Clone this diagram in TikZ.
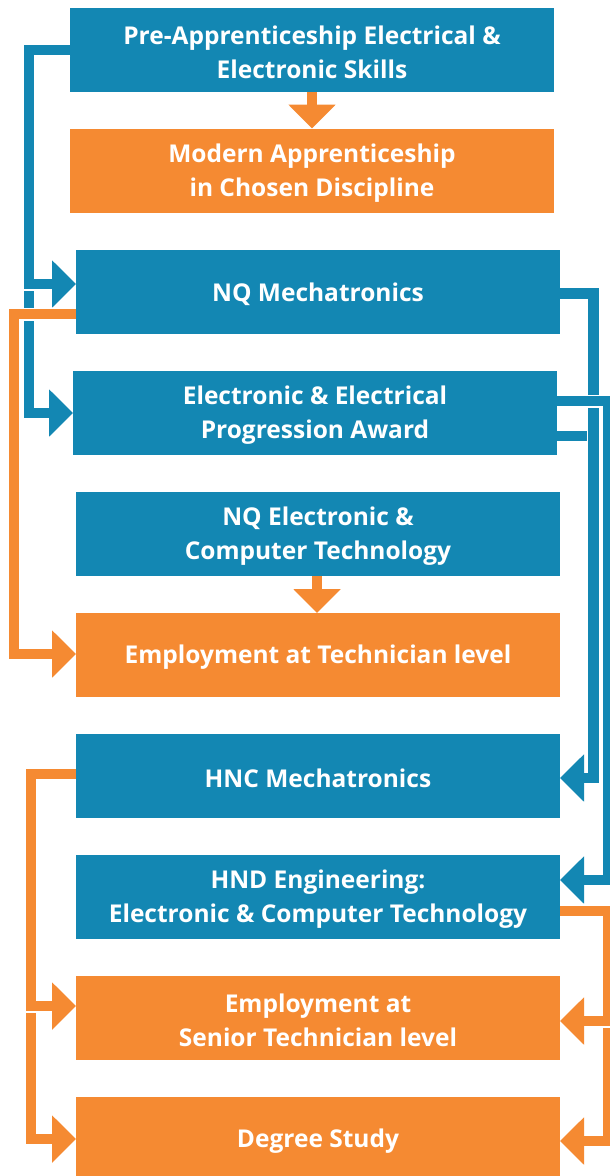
\documentclass[tikz,border=0pt]{standalone}
\usepackage{fontspec}
\setmainfont{Open Sans}
\usetikzlibrary{arrows.meta}
\definecolor{cblue}{RGB}{19,135,179}
\definecolor{corange}{RGB}{245,138,50}
\newcommand\boxtext[1]{\parbox[c][84pt][c]{484pt}{\centering\vspace*{5pt}#1\par}}
\begin{document}
\begin{tikzpicture}[x=1pt,y=-1pt,
  box/.style={minimum width=484pt, minimum height=84pt, inner sep=0pt, outer sep=0pt,
    text=white, font=\bfseries\fontsize{24.5}{34}\selectfont},
  bbox/.style={box, fill=cblue},
  obox/.style={box, fill=corange},
  conn/.style={line width=10.5pt, -{Triangle[length=24pt,width=46pt]},
    preaction={draw=white, line width=13pt, -}},
  bconn/.style={conn, draw=cblue},
  oconn/.style={conn, draw=corange},
  bjoin/.style={line width=10.5pt, draw=cblue, preaction={draw=white, line width=13pt}}
]
\useasboundingbox (0,0) rectangle (610,1176);

\node[bbox] (b1) at (312,50) {\boxtext{Pre-Apprenticeship Electrical \&\\Electronic Skills}};
\node[obox] (b2) at (312,170.5) {\boxtext{Modern Apprenticeship\\in Chosen Discipline}};
\node[bbox] (b3) at (318,291.5) {\boxtext{NQ Mechatronics}};
\node[bbox] (b4) at (315,413) {\boxtext{Electronic \& Electrical\\Progression Award}};
\node[bbox] (b5) at (318,534) {\boxtext{NQ Electronic \&\\Computer Technology}};
\node[obox] (b6) at (318,655) {\boxtext{Employment at Technician level}};
\node[bbox] (b7) at (318,776) {\boxtext{HNC Mechatronics}};
\node[bbox] (b8) at (318,897) {\boxtext{HND Engineering:\\Electronic \& Computer Technology}};
\node[obox] (b9) at (318,1018) {\boxtext{Employment at\\Senior Technician level}};
\node[obox] (b10) at (318,1139) {\boxtext{Degree Study}};

\coordinate (j1) at (593.5,436);

% down arrows
\draw[oconn] (b1.south) -- (b2.north);
\draw[oconn] ([xshift=-1pt]b5.south) -- ([xshift=-1pt]b6.north);

% blue left
\draw[bconn] (b1.west) -- (29,50) -- (29,413) -- (b4.west |- 0,413);
\draw[bconn] (b1.west) -- (29,50) -- (29,284) -- (b3.west |- 0,284);

% orange left top
\draw[oconn] (b3.west |- 0,314) -- (14,314) -- (14,654) -- (b6.west |- 0,654);

% blue right
\draw[bjoin] (b4.east |- 0,436) -- (j1);
\draw[bconn] (b3.east |- 0,293.5) -- (593.5,293.5) -- (593.5,778) -- (b7.east |- 0,778);
\draw[bconn] (b4.east |- 0,401) -- (608,401) -- (608,880) -- (b8.east |- 0,880);

% orange right
\draw[oconn] (b8.east |- 0,911) -- (608,911) -- (608,1141) -- (b10.east |- 0,1141);
\draw[oconn] (b8.east |- 0,911) -- (608,911) -- (608,1021) -- (b9.east |- 0,1021);

% orange left bottom
\draw[oconn] (b7.west |- 0,774) -- (31,774) -- (31,1139) -- (b10.west |- 0,1139);
\draw[oconn] (b7.west |- 0,774) -- (31,774) -- (31,1006) -- (b9.west |- 0,1006);
\end{tikzpicture}
\end{document}
